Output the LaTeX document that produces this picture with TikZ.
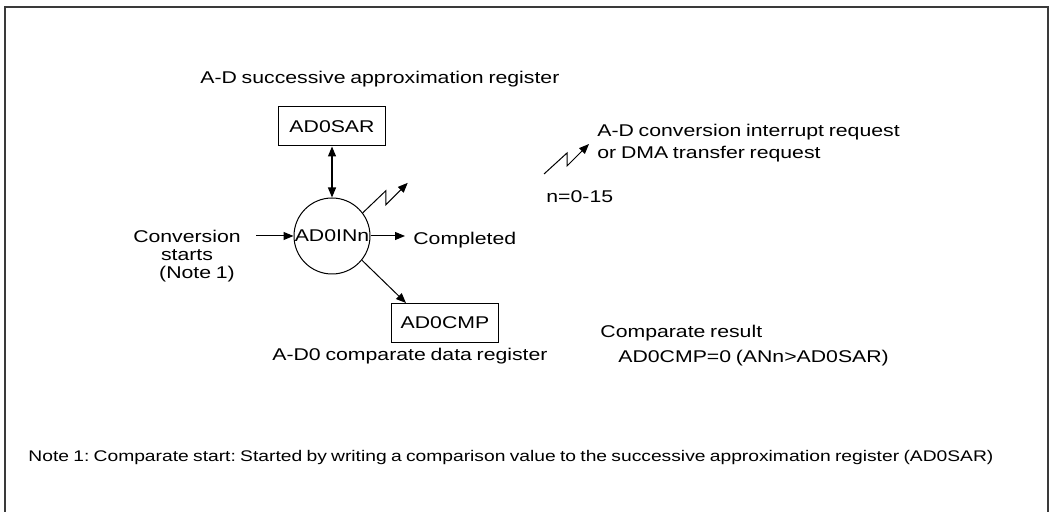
\documentclass[tikz,border=0pt]{standalone}
\usepackage{fontspec}
\setmainfont[FakeStretch=1.25, WordSpace=0.8]{Liberation Sans}
\usepackage{xcolor}
\definecolor{frameGray}{HTML}{3A3A3A}
\usepackage{tikz}
\usetikzlibrary{arrows.meta, positioning}
\frenchspacing

\begin{document}
\begin{tikzpicture}[
		x=0.5pt, y=-0.5pt,
		font=\fontsize{8.5}{9}\selectfont,
		reg/.style={
			draw,
			line width=0.5pt,
			minimum width=53.5pt,
			minimum height=19.5pt,
			inner sep=0pt
		},
		unit/.style={draw, circle, line width=0.5pt, minimum size=38pt, inner sep=0pt},
		txt/.style={anchor=base west, inner sep=0pt},
		arrow/.style={-{Triangle[length=5pt,width=4pt]}, line width=0.5pt},
		dblarrow/.style={{Triangle[length=5pt,width=4pt]}-{Triangle[length=5pt,width=4pt]}, line width=0.6pt}
		]
		
		\useasboundingbox (0,0) rectangle (1049,512);
		\draw[frameGray, line width=0.6pt] (5,512) -- (5,7) -- (1048,7) -- (1048,512);
		
		\node[txt] (sartitle) at (200,84) {A-D successive approximation register};
		\node[reg] (sar) at (332,126.5) {AD0SAR};
		\node[unit] (circ) at (332,236) {AD0INn};
		\node[reg] (cmp) at (445,323) {AD0CMP};
		\node[txt] (cmptitle) at (272,361) {A-D0 comparate data register};
		
		\node[anchor=north, align=center, inner sep=0pt] (conv) at (187,230) {Conversion\\starts\\\hspace*{10pt}(Note 1)};
		\coordinate (cin) at (256,236);
		\node[txt, inner xsep=4pt] (done) at (405,245) {Completed};
		
		\coordinate (lgd) at (544,174);
		\node[txt] (req1) at (597,137) {A-D conversion interrupt request};
		\node[txt] (req2) at (597,159) {or DMA transfer request};
		\node[txt] (range) at (546,203) {n=0-15};
		
		\node[txt] (result) at (600,338) {Comparate result};
		\node[txt] (resultval) at (618,363) {AD0CMP=0 (ANn>AD0SAR)};
		
		\node[txt, font=\fontsize{7.7}{9}\selectfont] (note) at (28,462) {Note 1: Comparate start: Started by writing a comparison value to the successive approximation register (AD0SAR)};
		
		\draw[dblarrow] (sar) -- (circ);
		\draw[arrow] (cin) -- (circ.west);
		\draw[arrow] (circ.east) -- (circ.east -| done.west);
		\draw[arrow] (circ.-39) -- ([xshift=7.5pt]cmp.north west);
		\draw[arrow] (circ.37) -- ++(23,-22) -- ++(0,14) -- ++(22,-22);
		\draw[arrow] (lgd) -- ++(23,-21) -- ++(0,13) -- ++(22,-22);
		
	\end{tikzpicture}
\end{document}
